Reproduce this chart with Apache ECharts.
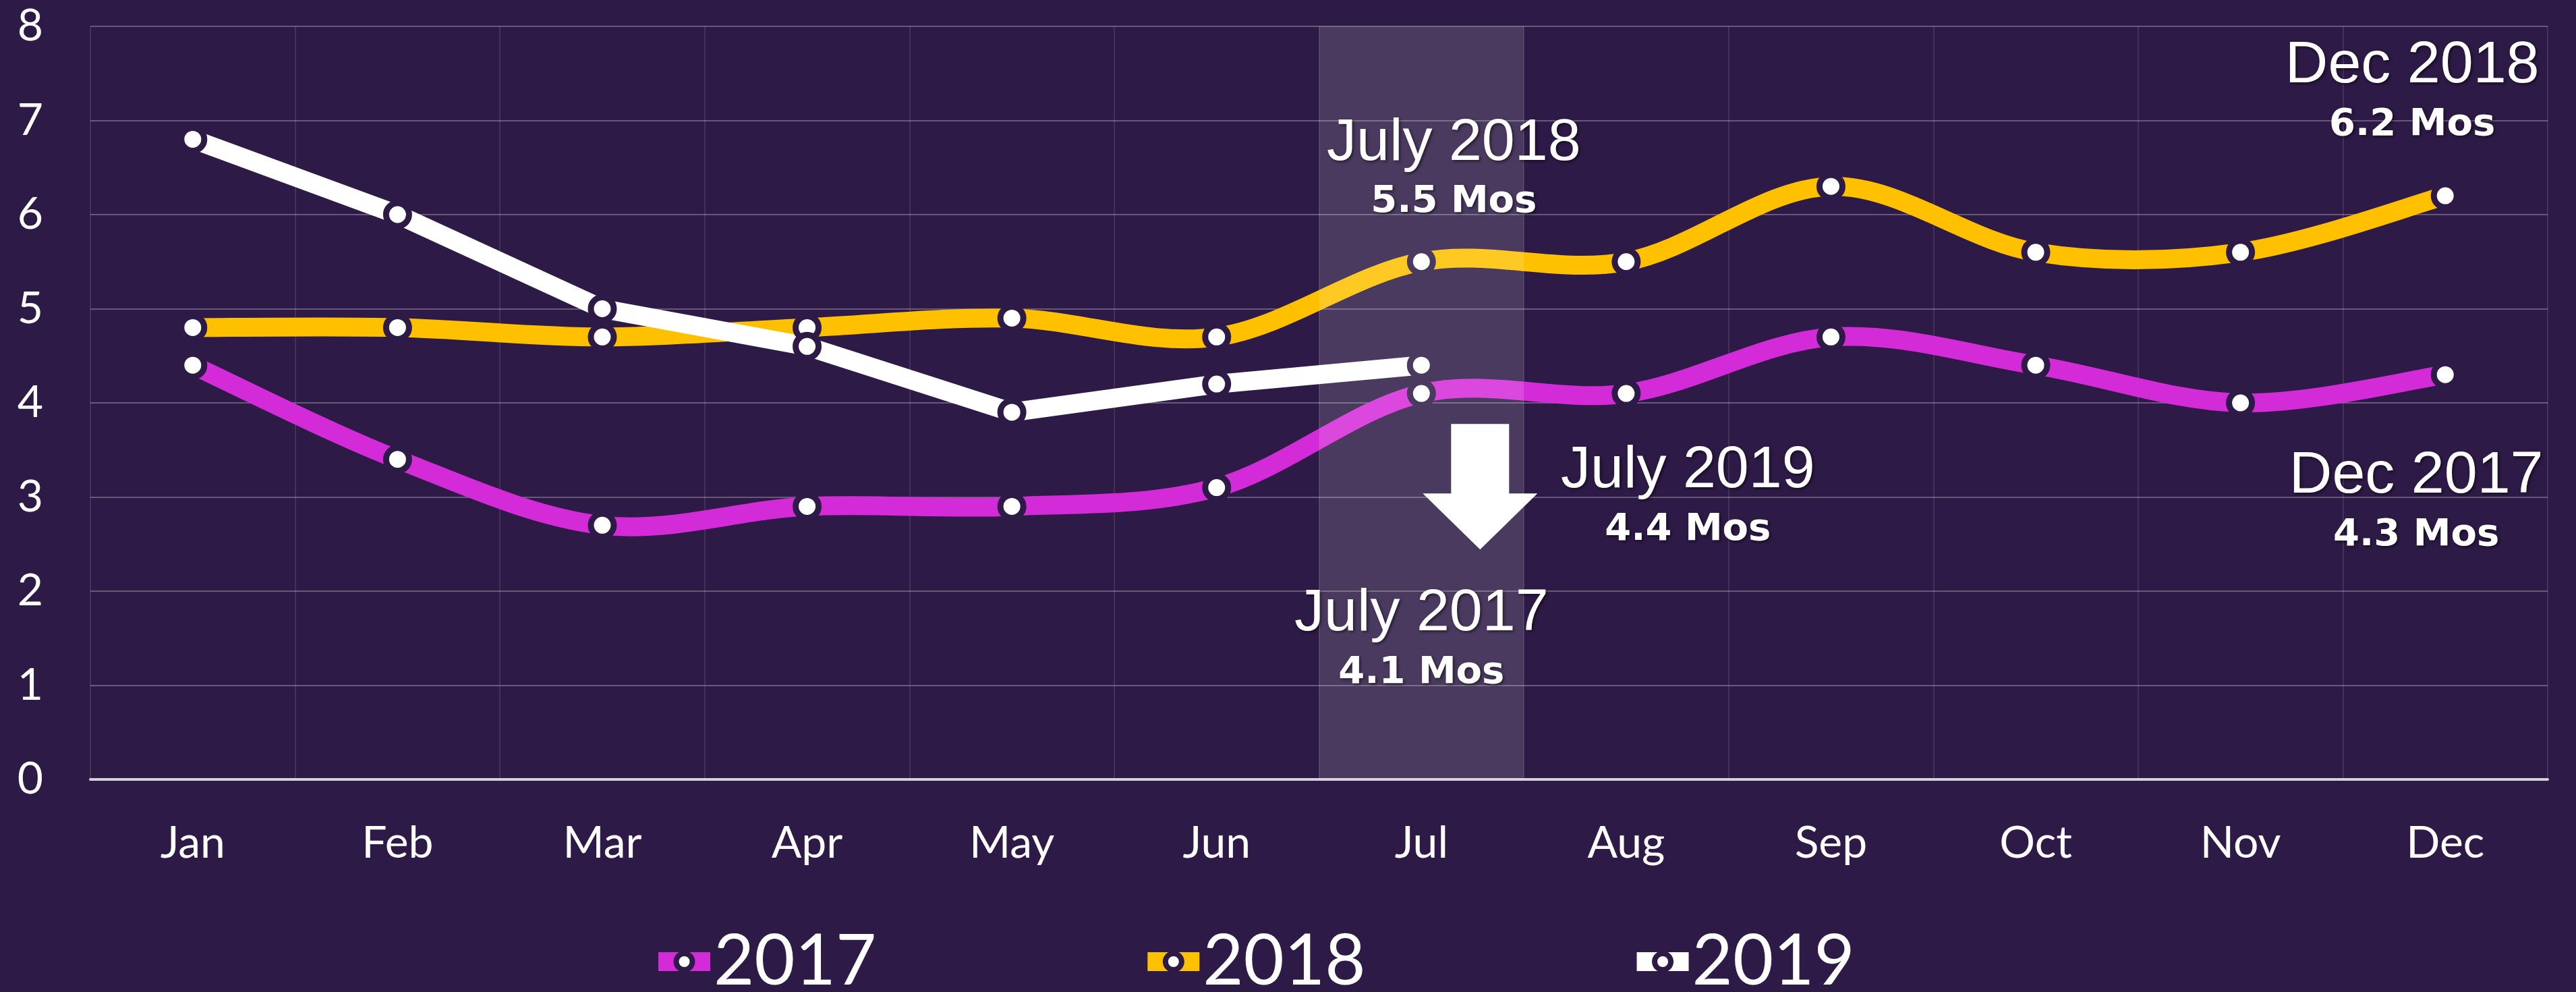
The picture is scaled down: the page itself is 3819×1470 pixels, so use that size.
<!DOCTYPE html>
<html>
<head>
<meta charset="utf-8">
<title>Months of supply 2017-2019</title>
<script src="https://cdn.jsdelivr.net/npm/echarts@6/dist/echarts.min.js"></script>
<style>
  html, body { margin: 0; padding: 0; background: #2e1a46; }
  #chart { width: 3819px; height: 1470px; }
</style>
</head>
<body>
<div id="chart"></div>
<script>
// data
const months = ['Jan', 'Feb', 'Mar', 'Apr', 'May', 'Jun', 'Jul', 'Aug', 'Sep', 'Oct', 'Nov', 'Dec']
const years = ['2017', '2018', '2019']
const values2017 = [4.4, 3.4, 2.7, 2.9, 2.9, 3.1, 4.1, 4.1, 4.7, 4.4, 4.0, 4.3]
const values2018 = [4.8, 4.8, 4.7, 4.8, 4.9, 4.7, 5.5, 5.5, 6.3, 5.6, 5.6, 6.2]
const values2019 = [6.8, 6.0, 5.0, 4.6, 3.9, 4.2, 4.4]
const yMin = 0
const yMax = 8
const yStep = 1
const highlightMonth = 'Jul'

// callouts: month + heading shown above the value
const notes2017 = [['Jul', 'July 2017'], ['Dec', 'Dec 2017']]
const notes2018 = [['Jul', 'July 2018'], ['Dec', 'Dec 2018']]
const notes2019 = [['Jul', 'July 2019']]

const bg = '#2e1a46'
const colors = ['#d42bd9', '#ffc000', '#ffffff']
const smoothed = [true, true, false]
const allValues = [values2017, values2018, values2019]
const allNotes = [notes2017, notes2018, notes2019]

// label offsets (px) per callout, keyed by heading
const noteOffsets = {
  'July 2017': [0, 368],
  'Dec 2017': [-43, 192],
  'July 2018': [48, -134],
  'Dec 2018': [-49, -151],
  'July 2019': [395, 198]
}

const shadow = {
  textShadowColor: 'rgba(0,0,0,0.55)',
  textShadowBlur: 4,
  textShadowOffsetX: 2,
  textShadowOffsetY: 2
}

// Excel-like smoothing (catmull-rom), control points from neighbours
const curvePath = (pts, smooth) => {
  let d = 'M' + pts[0][0] + ' ' + pts[0][1]
  for (let k = 0; k < pts.length - 1; k++) {
    const p0 = pts[Math.max(k - 1, 0)]
    const p1 = pts[k]
    const p2 = pts[k + 1]
    const p3 = pts[Math.min(k + 2, pts.length - 1)]
    if (!smooth) {
      d += ' L' + p2[0] + ' ' + p2[1]
      continue
    }
    const c1 = [p1[0] + (p2[0] - p0[0]) / 6, p1[1] + (p2[1] - p0[1]) / 6]
    const c2 = [p2[0] - (p3[0] - p1[0]) / 6, p2[1] - (p3[1] - p1[1]) / 6]
    d += ' C' + c1.join(' ') + ' ' + c2.join(' ') + ' ' + p2.join(' ')
  }
  return d
}

const buildMarks = (idx) => {
  const vals = allValues[idx]
  const marks = allNotes[idx].map(([m, title]) => {
    const v = vals[months.indexOf(m)]
    return {
      coord: [m, v],
      value: v,
      symbol: 'circle',
      symbolSize: 1,
      itemStyle: { color: 'rgba(0,0,0,0)' },
      label: {
        show: true,
        position: 'inside',
        offset: noteOffsets[title],
        formatter: '{t|' + title + '}\n{s|' + v.toFixed(1) + ' Mos}'
      }
    }
  })
  if (idx === 2) {
    // down arrow next to July 2019
    const v = vals[months.indexOf(highlightMonth)]
    marks.push({
      coord: [highlightMonth, v],
      value: v,
      symbol: 'path://M42,0 L128,0 L128,103 L170,103 L85,186 L0,103 L42,103 Z',
      symbolSize: [170, 186],
      symbolOffset: [87, 180],
      itemStyle: { color: '#ffffff' },
      label: { show: false }
    })
  }
  return marks
}

const curveSeries = years.map((y, i) => ({
  name: y + ' curve',
  type: 'custom',
  data: allValues[i].map((v, k) => [k, v]),
  z: 2,
  silent: true,
  renderItem: (params, api) => {
    if (params.dataIndex !== 0) return null
    const pts = allValues[i].map((v, k) => api.coord([k, v]))
    return {
      type: 'path',
      shape: { pathData: curvePath(pts, smoothed[i]) },
      style: { fill: null, stroke: colors[i], lineWidth: 28, lineJoin: 'round' }
    }
  }
}))

const lineSeries = years.map((y, i) => ({
  name: y,
  type: 'line',
  data: allValues[i],
  z: 3,
  symbol: 'circle',
  symbolSize: 34,
  showSymbol: true,
  lineStyle: { color: colors[i], width: 28, opacity: 0 },
  itemStyle: { color: '#ffffff', borderColor: bg, borderWidth: 9 },
  markPoint: {
    z: 6,
    silent: true,
    label: {
      rich: {
        t: Object.assign({ fontFamily: 'Liberation Sans', fontSize: 88, color: '#ffffff', lineHeight: 92, align: 'center' }, shadow),
        s: Object.assign({ fontFamily: 'DejaVu Sans', fontWeight: 'bold', fontSize: 56, color: '#ffffff', lineHeight: 82, align: 'center' }, shadow)
      }
    },
    data: buildMarks(i)
  }
}))

const bandSeries = {
  name: 'band',
  type: 'bar',
  data: months.map(m => (m === highlightMonth ? yMax : '-')),
  barWidth: '100%',
  itemStyle: { color: 'rgba(255,255,255,0.14)' },
  z: 4,
  silent: true
}

const chart = echarts.init(document.getElementById('chart'))
chart.setOption({
  backgroundColor: bg,
  animation: false,
  grid: { left: 134, right: 42, top: 39, bottom: 315 },
  legend: {
    data: years,
    top: 1373,
    left: 962,
    padding: 0,
    itemGap: 388,
    itemWidth: 77,
    itemHeight: 30,
    lineStyle: { width: 28, opacity: 1 },
    itemStyle: { borderWidth: 8, borderColor: bg },
    textStyle: { color: '#ffffff', fontFamily: 'Lato', fontSize: 104, lineHeight: 104 }
  },
  xAxis: {
    type: 'category',
    data: months,
    boundaryGap: true,
    axisTick: { show: false },
    axisLine: { lineStyle: { color: '#d6d0dc', width: 4 } },
    axisLabel: { color: '#ffffff', fontFamily: 'Lato', fontSize: 66, margin: 62 },
    splitLine: { show: true, lineStyle: { color: 'rgba(255,255,255,0.1)', width: 2 } }
  },
  yAxis: {
    type: 'value',
    min: yMin,
    max: yMax,
    interval: yStep,
    axisLine: { show: false },
    axisTick: { show: false },
    axisLabel: { color: '#ffffff', fontFamily: 'Lato', fontSize: 66, margin: 70 },
    splitLine: { lineStyle: { color: 'rgba(255,255,255,0.28)', width: 2 } }
  },
  series: [...curveSeries, ...lineSeries, bandSeries]
})
</script>
</body>
</html>
